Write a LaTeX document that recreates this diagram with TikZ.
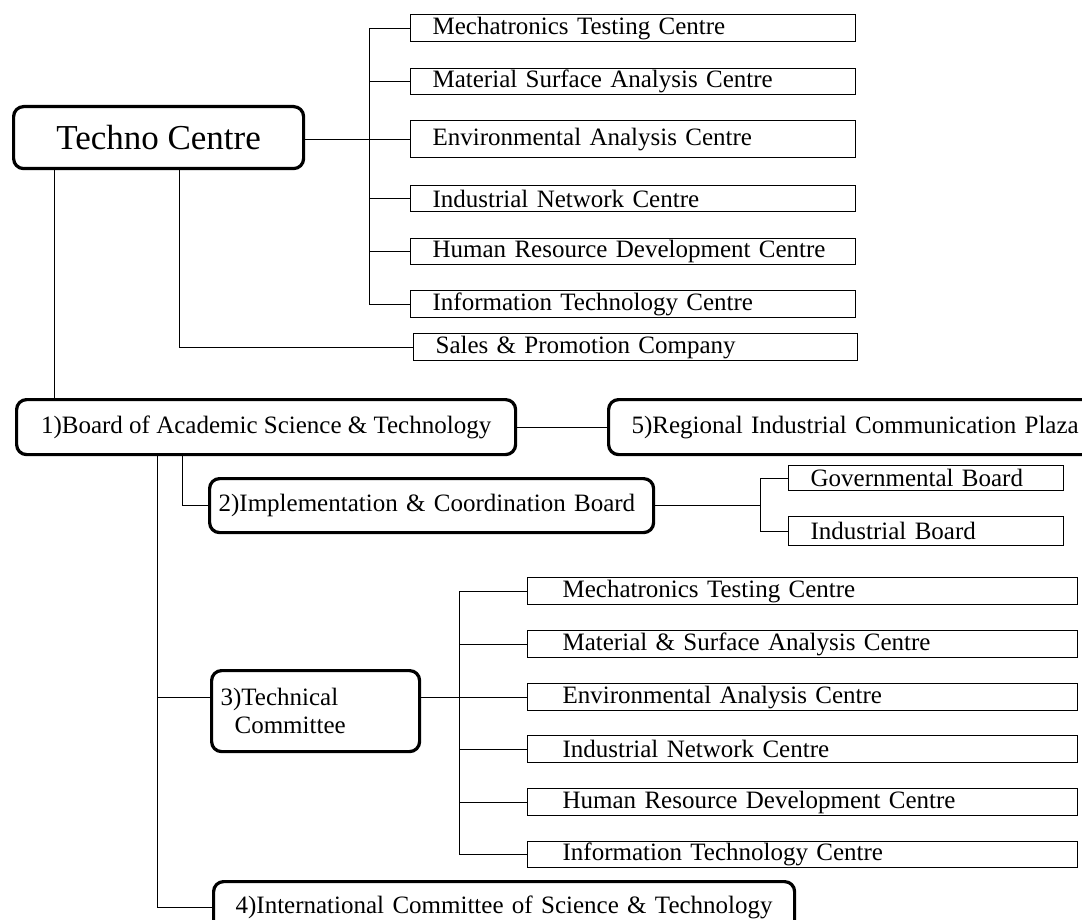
\documentclass[tikz,border=0pt]{standalone}
\usepackage{fontspec}
\setmainfont{Liberation Serif}
\newcommand\boxfont{\fontsize{25}{28}\selectfont}
\newcommand\bigboxfont{\fontsize{35}{40}\selectfont}
\tikzset{
  leaf/.style={draw, line width=1.2pt, rectangle, anchor=north west,
    inner ysep=0pt, inner xsep=22pt, font=\boxfont, align=left},
  unit/.style={draw, line width=3.2pt, rounded corners=10pt, anchor=north west,
    inner ysep=0pt, inner xsep=9pt, font=\boxfont},
  link/.style={line width=1pt}
}
\begin{document}
\begin{tikzpicture}[x=1pt, y=-1pt]
\fill[white] (0,0) rectangle (1082,920);
\useasboundingbox (0,0) rectangle (1082,920);
\clip (0,0) rectangle (1082,920);

% Techno Centre and its units
\node[unit, font=\bigboxfont, minimum width=290pt, minimum height=62pt] (tc) at (12,105) {Techno Centre};

\node[leaf, text width=401pt, minimum height=27pt] (a1) at (410,14)  {Mechatronics Testing Centre};
\node[leaf, text width=401pt, minimum height=26pt] (a2) at (410,68)  {Material Surface Analysis Centre};
\node[leaf, text width=401pt, minimum height=37pt] (a3) at (410,120) {Environmental Analysis Centre};
\node[leaf, text width=401pt, minimum height=26pt] (a4) at (410,185) {Industrial Network Centre};
\node[leaf, text width=401pt, minimum height=26pt] (a5) at (410,238) {Human Resource Development Centre};
\node[leaf, text width=401pt, minimum height=27pt] (a6) at (410,290) {Information Technology Centre};
\node[leaf, text width=400pt, minimum height=27pt] (sp) at (413,333) {Sales \& Promotion Company};

% Boards and committees
\node[unit, minimum width=499pt, minimum height=55pt] (b1) at (15,398) {1)Board of Academic Science \& Technology};
\node[unit, inner xsep=23pt, text width=474pt, align=left, minimum height=55pt] (b5) at (607,398) {5)Regional Industrial Communication Plaza};
\node[unit, text width=426pt, align=left, minimum height=54pt] (b2) at (208,477) {2)Implementation \& Coordination Board};
\node[leaf, text width=231pt, minimum height=25pt] (gb) at (788,465) {Governmental Board};
\node[leaf, text width=231pt, minimum height=29pt] (ib) at (788,516) {Industrial Board};
\node[unit, text width=190pt, align=left, minimum height=81pt] (b3) at (210,669) {3)Technical\\\hspace*{14pt}Committee};
\node[unit, inner xsep=22pt, text width=537pt, align=left, minimum height=52pt] (b4) at (212,880) {4)International Committee of Science \& Technology};

% Technical committee centres
\node[leaf, inner xsep=35pt, text width=480pt, minimum height=27pt] (c1) at (527,577) {Mechatronics Testing Centre};
\node[leaf, inner xsep=35pt, text width=480pt, minimum height=27pt] (c2) at (527,630) {Material \& Surface Analysis Centre};
\node[leaf, inner xsep=35pt, text width=480pt, minimum height=27pt] (c3) at (527,683) {Environmental Analysis Centre};
\node[leaf, inner xsep=35pt, text width=480pt, minimum height=27pt] (c4) at (527,735) {Industrial Network Centre};
\node[leaf, inner xsep=35pt, text width=480pt, minimum height=27pt] (c5) at (527,788) {Human Resource Development Centre};
\node[leaf, inner xsep=35pt, text width=480pt, minimum height=26pt] (c6) at (527,841) {Information Technology Centre};

% Techno Centre connectors
\draw[link] (tc.east |- a3.west) -- (a3.west);
\draw[link] (a1.west) -- ++(-41,0) |- (a6.west);
\foreach \n in {a2,a4,a5} \draw[link] (\n.west) -- ++(-41,0);
\draw[link] ([xshift=167pt]tc.south west) |- (sp.west);
\coordinate (tb) at ([xshift=42pt]tc.south west);
\draw[link] (tb) -- (tb |- b1.north);

% Board connectors
\draw[link] (b1.east) -- (b5.west);
\draw[link] ([xshift=167pt]b1.south west) |- (b2.west);
\coordinate (gt) at ([xshift=-28pt]gb.west);
\draw[link] (b2.east) -- (b2.east -| gt);
\draw[link] (gb.west) -- (gt) |- (ib.west);
\coordinate (lt) at ([xshift=142pt]b1.south west);
\draw[link] (lt) |- (b4.west);
\draw[link] (lt |- c3.west) -- (b3.west |- c3.west);

% Technical committee connectors
\draw[link] (b3.east |- c3.west) -- (c3.west);
\draw[link] (c1.west) -- ++(-68,0) |- (c6.west);
\foreach \n in {c2,c4,c5} \draw[link] (\n.west) -- ++(-68,0);
\end{tikzpicture}
\end{document}
